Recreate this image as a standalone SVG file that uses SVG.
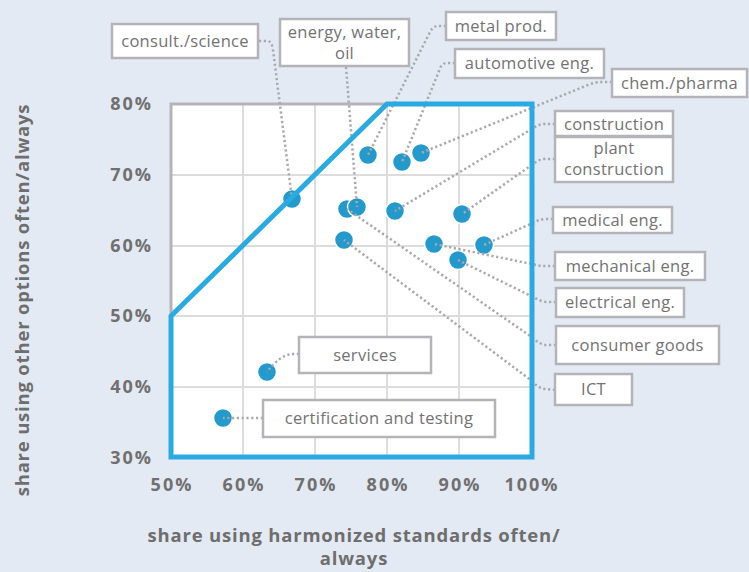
<svg xmlns="http://www.w3.org/2000/svg" width="749" height="572" viewBox="0 0 749 572">
<style>
.bg{fill:#e4eaf3}
.grid{stroke:#dcdcdc;stroke-width:2;fill:none}
.frame{stroke:#b4b4b8;stroke-width:3;fill:none}
.zone{stroke:#29abe2;stroke-width:5;fill:none;stroke-linejoin:miter}
.pt{fill:#2399cc;stroke:#ffffff;stroke-width:1.5}
.con{fill:none;stroke:#a9a9ad;stroke-width:2.5;stroke-dasharray:2.2 2.6}
.box{fill:#ffffff;stroke:#b4b4b8;stroke-width:2.5}
.lbl{font-family:"Open Sans","Noto Sans",sans-serif;font-size:16.5px;fill:#727272;text-anchor:middle;letter-spacing:0.3px}
.tick{font-family:"Open Sans","Noto Sans",sans-serif;font-size:18px;font-weight:700;fill:#707070;letter-spacing:2px}
.ttl{font-family:"Open Sans","Noto Sans",sans-serif;font-size:18.5px;font-weight:700;fill:#6e6e6e;text-anchor:middle;letter-spacing:0.8px}
</style>
<rect class="bg" x="0" y="0" width="749" height="572"/>
<g id="plot">
<rect x="171" y="104" width="361" height="353" fill="#ffffff"/>
<path class="grid" d="M243 104V457M315 104V457M387 104V457M459 104V457M171 175H532M171 246H532M171 316H532M171 387H532"/>
<path class="frame" d="M171 316V104H387"/>
</g>
<g id="ticks">
<text class="tick" x="153" y="110" text-anchor="end">80%</text>
<text class="tick" x="153" y="181" text-anchor="end">70%</text>
<text class="tick" x="153" y="252" text-anchor="end">60%</text>
<text class="tick" x="153" y="322" text-anchor="end">50%</text>
<text class="tick" x="153" y="393" text-anchor="end">40%</text>
<text class="tick" x="153" y="464" text-anchor="end">30%</text>
<text class="tick" x="172" y="491" text-anchor="middle">50%</text>
<text class="tick" x="244" y="491" text-anchor="middle">60%</text>
<text class="tick" x="316" y="491" text-anchor="middle">70%</text>
<text class="tick" x="388" y="491" text-anchor="middle">80%</text>
<text class="tick" x="460" y="491" text-anchor="middle">90%</text>
<text class="tick" x="532" y="491" text-anchor="middle">100%</text>
</g>
<g id="axis-titles">
<text class="ttl" transform="translate(29,300) rotate(-90)">share using other options often/always</text>
<text class="ttl" x="354" y="542">share using harmonized standards often/</text>
<text class="ttl" x="354" y="565">always</text>
</g>
<g id="points">
<circle class="pt" cx="292" cy="199" r="9.5"/>
<circle class="pt" cx="347" cy="209" r="9.5"/>
<circle class="pt" cx="357" cy="207" r="9.5"/>
<circle class="pt" cx="368" cy="155" r="9.5"/>
<circle class="pt" cx="402" cy="162" r="9.5"/>
<circle class="pt" cx="421" cy="153" r="9.5"/>
<circle class="pt" cx="395" cy="211" r="9.5"/>
<circle class="pt" cx="462" cy="214" r="9.5"/>
<circle class="pt" cx="484" cy="245" r="9.5"/>
<circle class="pt" cx="434" cy="244" r="9.5"/>
<circle class="pt" cx="458" cy="260" r="9.5"/>
<circle class="pt" cx="344" cy="240" r="9.5"/>
<circle class="pt" cx="267" cy="372" r="9.5"/>
<circle class="pt" cx="223" cy="418" r="9.5"/>
</g>
<g id="connectors">
<path class="con" d="M259 41L268 41Q272 42 273 50L292 199"/>
<path class="con" d="M346 67L357 207"/>
<path class="con" d="M446 26L437 26Q432 27 429 34L368 155"/>
<path class="con" d="M455 63L446 63Q441 64 439 71L402 162"/>
<path class="con" d="M612 82L601 82Q595 82 588 85L421 153"/>
<path class="con" d="M555 124L545 124Q540 124 535 127L395 211"/>
<path class="con" d="M555 159L545 159Q540 159 536 162L462 214"/>
<path class="con" d="M553 219L546 219Q541 219 537 221L484 245"/>
<path class="con" d="M555 266L544 266Q538 266 532 264L434 244"/>
<path class="con" d="M556 302L546 302Q540 301 535 298L458 260"/>
<path class="con" d="M556 345L546 345Q539 344 533 338L347 209"/>
<path class="con" d="M555 390L545 389Q538 388 532 381L344 240"/>
<path class="con" d="M299 354L292 354Q280 355 267 372"/>
<path class="con" d="M263 418L223 418"/>
</g>
<g id="zone">
<path class="zone" d="M171 457V316L387 104H532V457Z"/>
</g>
<g id="n-consult"><rect class="box" x="112" y="24" width="146" height="34"/><text class="lbl" x="185" y="47">consult./science</text></g>
<g id="n-energy"><rect class="box" x="280" y="19" width="129" height="47"/><text class="lbl" x="344.5" y="38">energy, water,</text><text class="lbl" x="344.5" y="59">oil</text></g>
<g id="n-metal"><rect class="box" x="446" y="12" width="110" height="28"/><text class="lbl" x="501" y="32">metal prod.</text></g>
<g id="n-automotive"><rect class="box" x="455" y="49" width="149" height="29"/><text class="lbl" x="529.5" y="69">automotive eng.</text></g>
<g id="n-chem"><rect class="box" x="612" y="69" width="135" height="28"/><text class="lbl" x="679.5" y="89">chem./pharma</text></g>
<g id="n-construction"><rect class="box" x="555" y="111" width="118" height="25"/><text class="lbl" x="614" y="130">construction</text></g>
<g id="n-plant"><rect class="box" x="555" y="137" width="118" height="45"/><text class="lbl" x="614" y="154" font-size="16px">plant</text><text class="lbl" x="614" y="175" font-size="16px">construction</text></g>
<g id="n-medical"><rect class="box" x="553" y="207" width="119" height="26"/><text class="lbl" x="612.5" y="226">medical eng.</text></g>
<g id="n-mechanical"><rect class="box" x="555" y="252" width="150" height="28"/><text class="lbl" x="630" y="272">mechanical eng.</text></g>
<g id="n-electrical"><rect class="box" x="556" y="288" width="128" height="29"/><text class="lbl" x="620" y="308">electrical eng.</text></g>
<g id="n-consumer"><rect class="box" x="556" y="326" width="163" height="38"/><text class="lbl" x="637.5" y="351">consumer goods</text></g>
<g id="n-ict"><rect class="box" x="555" y="374" width="77" height="31"/><text class="lbl" x="593.5" y="395">ICT</text></g>
<g id="n-services"><rect class="box" x="299" y="337" width="132" height="36"/><text class="lbl" x="365" y="361">services</text></g>
<g id="n-cert"><rect class="box" x="263" y="400" width="232" height="37"/><text class="lbl" x="379" y="424">certification and testing</text></g>
</svg>
